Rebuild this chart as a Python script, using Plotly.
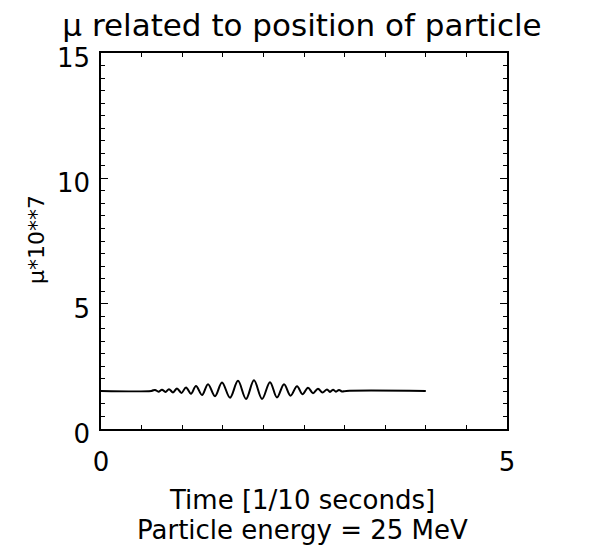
import plotly.graph_objects as go

# ---- data ----
baseline_mu = 1.52
flat_start_time = [0.0, 0.62]
flat_end_time = [3.02, 4.0]

peak_time = [0.665, 0.751, 0.837, 0.936, 1.047, 1.170, 1.318, 1.490, 1.687,
             1.884, 2.081, 2.254, 2.414, 2.549, 2.672, 2.783, 2.857, 2.931]
peak_mu = [1.56, 1.57, 1.59, 1.62, 1.66, 1.72, 1.79, 1.86, 1.92,
           1.94, 1.87, 1.79, 1.71, 1.65, 1.61, 1.58, 1.57, 1.56]
trough_time = [0.708, 0.794, 0.887, 0.991, 1.108, 1.244, 1.404, 1.589, 1.786,
               1.983, 2.167, 2.334, 2.481, 2.611, 2.728, 2.820, 2.894, 2.968]
trough_mu = [1.49, 1.48, 1.46, 1.44, 1.41, 1.36, 1.31, 1.25, 1.20,
             1.20, 1.26, 1.33, 1.39, 1.43, 1.46, 1.48, 1.49, 1.50]

x_tick_vals = [0, 5]
x_tick_text = ["0", "5"]
y_tick_vals = [0, 5, 10, 15]
y_tick_text = ["0", "5", "10", "15"]

# assemble the curve
pts = [(t, baseline_mu) for t in flat_start_time]
pts += list(zip(peak_time, peak_mu)) + list(zip(trough_time, trough_mu))
pts += [(t, baseline_mu) for t in flat_end_time]
pts.sort(key=lambda p: p[0])
time = [p[0] for p in pts]
mu = [p[1] for p in pts]

FONT = "DejaVu Sans"
OFF = 8  # page body margin
FW, FH = 593 - OFF, 546 - OFF

fig = go.Figure()
fig.add_trace(go.Scatter(x=time, y=mu, mode="lines",
                         line=dict(color="black", width=2, shape="spline", smoothing=1.0),
                         showlegend=False, hoverinfo="skip"))

axis_common = dict(showgrid=False, zeroline=False, showline=True, linecolor="black",
                   linewidth=1.5, mirror="allticks", ticks="inside", tickcolor="black",
                   tickfont=dict(family=FONT, size=26, color="black"))

fig.update_xaxes(range=[0, 5], tickvals=x_tick_vals, ticktext=x_tick_text,
                 ticklen=6, tickwidth=1.2, ticklabelstandoff=9,
                 minor=dict(dtick=0.5, tick0=0, ticks="inside", ticklen=4,
                            tickcolor="black", tickwidth=1.2),
                 **axis_common)
fig.update_yaxes(range=[0, 15], tickvals=y_tick_vals, ticktext=y_tick_text,
                 ticklen=7, tickwidth=1.2, ticklabelstandoff=4, ticklabelshift=5,
                 minor=dict(dtick=0.5, tick0=0, ticks="inside", ticklen=4,
                            tickcolor="black", tickwidth=1.2),
                 **axis_common)

H = 376.0
W = 406.0
fig.update_layout(
    width=FW, height=FH,
    margin=dict(l=101 - OFF, r=FW - (101 - OFF) - 406, t=53 - OFF,
                b=FH - (53 - OFF) - 376),
    paper_bgcolor="white", plot_bgcolor="white",
    font=dict(family=FONT, color="black"),
    title=dict(text="\u03bc related to position of particle",
               font=dict(family=FONT, size=31, color="black"),
               x=(302 - OFF) / FW, xanchor="center", xref="container",
               y=1 - (25 - OFF) / FH, yanchor="middle", yref="container"),
    annotations=[
        dict(text="Time [1/10 seconds]", xref="paper", yref="paper",
             x=(302 - 101) / W, y=(429 - 500) / H, xanchor="center", yanchor="middle",
             showarrow=False, font=dict(family=FONT, size=26, color="black")),
        dict(text="Particle energy = 25 MeV", xref="paper", yref="paper",
             x=(302 - 101) / W, y=(429 - 530) / H, xanchor="center", yanchor="middle",
             showarrow=False, font=dict(family=FONT, size=26, color="black")),
        dict(text="\u03bc*10**7", xref="paper", yref="paper",
             x=(36 - 101) / W, y=(429 - 240) / H, xanchor="center", yanchor="middle",
             textangle=-90, showarrow=False,
             font=dict(family=FONT, size=22, color="black")),
    ],
)

fig.write_html("out.html")
